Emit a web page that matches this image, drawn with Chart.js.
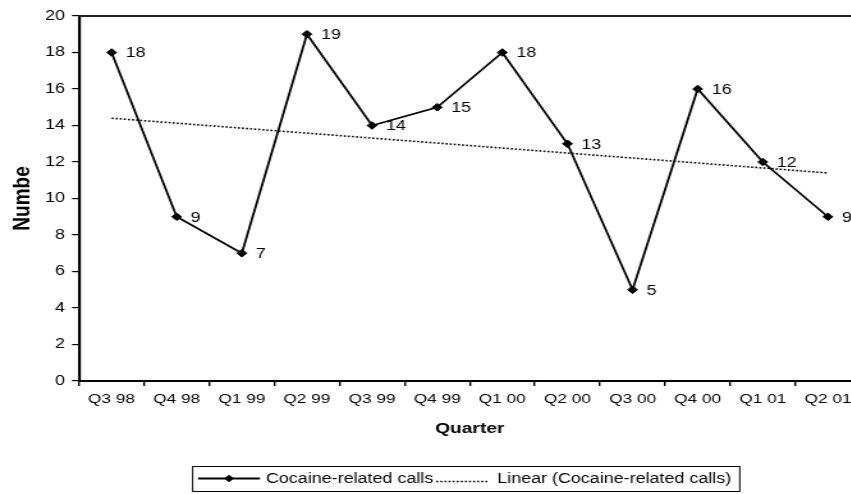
<!DOCTYPE html>
<html>
<head>
<meta charset="utf-8">
<script src="https://cdn.jsdelivr.net/npm/chart.js@4.4.1/dist/chart.umd.min.js"></script>
<style>
  html, body { margin: 0; padding: 0; background: #fff; overflow: hidden; }
  #wrap { width: 851px; height: 494px; overflow: hidden; }
  #calls { display: block; }
</style>
</head>
<body>
<div id="wrap">
  <!-- bitmap is drawn narrower and shown stretched sideways, like the old spreadsheet export -->
  <canvas id="calls" width="688" height="494" style="width:880px;height:494px"></canvas>
</div>
<script>
// quarters and counts
const quarters = ['Q3 98', 'Q4 98', 'Q1 99', 'Q2 99', 'Q3 99', 'Q4 99', 'Q1 00', 'Q2 00', 'Q3 00', 'Q4 00', 'Q1 01', 'Q2 01'];
const cocaineCalls = [18, 9, 7, 19, 14, 15, 18, 13, 5, 16, 12, 9];
// linear trend, first and last quarter
const trendEnds = [14.4, 11.4];
const yTicks = [0, 2, 4, 6, 8, 10, 12, 14, 16, 18, 20];

const SX = 880 / 688;           // sideways stretch of the canvas
const px = v => v / SX;         // screen px -> canvas px (horizontal only)
const FONT = "'Liberation Sans', Arial, sans-serif";

// trend series: just the two ends, the line spans the gap
const trendData = quarters.map((q, i) => i === 0 ? trendEnds[0] : (i === quarters.length - 1 ? trendEnds[1] : null));

Chart.defaults.font.family = FONT;
Chart.defaults.font.size = 13;
Chart.defaults.color = '#000';

// value labels right of each point
const pointLabels = {
  id: 'pointLabels',
  afterDatasetsDraw(chart) {
    const ctx = chart.ctx;
    const meta = chart.getDatasetMeta(0);
    ctx.save();
    ctx.font = '14px ' + FONT;
    ctx.fillStyle = '#000';
    ctx.textAlign = 'left';
    ctx.textBaseline = 'middle';
    meta.data.forEach((pt, i) => {
      ctx.fillText(String(cocaineCalls[i]), pt.x + px(14), pt.y + 1);
    });
    ctx.restore();
  }
};

// top edge of the plot frame
const frameTop = {
  id: 'frameTop',
  beforeDatasetsDraw(chart) {
    const {ctx, chartArea} = chart;
    ctx.save();
    ctx.strokeStyle = '#222';
    ctx.lineWidth = 2;
    ctx.beginPath();
    ctx.moveTo(chartArea.left, chartArea.top);
    ctx.lineTo(chartArea.right, chartArea.top);
    ctx.stroke();
    ctx.restore();
  }
};

// boxed legend under the axis title
const boxLegend = {
  id: 'boxLegend',
  afterDraw(chart) {
    const ctx = chart.ctx;
    const top = 466, h = 25, mid = top + h / 2;
    const left = px(192);
    ctx.save();
    ctx.font = '14px ' + FONT;
    ctx.fillStyle = '#000';
    ctx.strokeStyle = '#000';
    ctx.textBaseline = 'middle';

    // solid line + diamond
    const a = left + px(6), b = left + px(68);
    ctx.lineWidth = 1.8;
    ctx.beginPath(); ctx.moveTo(a, mid); ctx.lineTo(b, mid); ctx.stroke();
    const cx = (a + b) / 2, r = 3.8;
    ctx.beginPath();
    ctx.moveTo(cx, mid - r); ctx.lineTo(cx + r, mid); ctx.lineTo(cx, mid + r); ctx.lineTo(cx - r, mid);
    ctx.closePath(); ctx.fill();

    const t1 = chart.data.datasets[0].label;
    const x1 = left + px(74);
    ctx.fillText(t1, x1, mid + 1);
    const w1 = ctx.measureText(t1).width;

    // dotted sample
    const d0 = x1 + w1 + px(3), d1 = d0 + px(53);
    ctx.lineWidth = 1.5;
    ctx.setLineDash([1.6, 1.6]);
    ctx.beginPath(); ctx.moveTo(d0, mid + 3); ctx.lineTo(d1, mid + 3); ctx.stroke();
    ctx.setLineDash([]);

    const t2 = chart.data.datasets[1].label;
    const x2 = d1 + px(8);
    ctx.fillText(t2, x2, mid + 1);
    const w2 = ctx.measureText(t2).width;

    ctx.lineWidth = 1;
    ctx.strokeRect(left + 0.5, top + 0.5, x2 + w2 + px(8) - left, h);
    ctx.restore();
  }
};

new Chart(document.getElementById('calls'), {
  type: 'line',
  data: {
    labels: quarters,
    datasets: [{
      label: 'Cocaine-related calls',
      data: cocaineCalls,
      borderColor: '#000',
      backgroundColor: '#000',
      borderWidth: 1.8,
      tension: 0,
      pointStyle: 'rectRot',
      pointRadius: 3.8,
      pointBorderWidth: 1,
      pointBackgroundColor: '#000',
      pointBorderColor: '#000'
    }, {
      label: 'Linear (Cocaine-related calls)',
      data: trendData,
      spanGaps: true,
      borderColor: '#000',
      borderWidth: 1.6,
      borderDash: [1.6, 1.6],
      pointRadius: 0,
      tension: 0
    }]
  },
  options: {
    responsive: false,
    devicePixelRatio: 1,
    animation: false,
    layout: { padding: { top: 16, right: 688 - px(860.5), bottom: 53, left: 0 } },
    plugins: {
      legend: { display: false },
      tooltip: { enabled: false }
    },
    scales: {
      x: {
        type: 'category',
        offset: true,
        afterFit(scale) { scale.height = 60; },
        grid: {
          offset: true,
          drawOnChartArea: false,
          drawTicks: true,
          tickLength: 5,
          color: '#000',
          lineWidth: 1.4
        },
        border: { display: true, color: '#000', width: 2 },
        ticks: { autoSkip: false, maxRotation: 0, padding: 5, color: '#000', font: { size: 13.5 } },
        title: {
          display: true,
          text: 'Quarter',
          color: '#000',
          font: { size: 15, weight: 'bold' },
          padding: { top: 0, bottom: 3 }
        }
      },
      y: {
        min: 0,
        max: 20,
        afterFit(scale) { scale.width = px(79); },
        afterBuildTicks(scale) { scale.ticks = yTicks.map(v => ({ value: v })); },
        grid: {
          drawOnChartArea: false,
          drawTicks: true,
          tickLength: px(7),
          color: '#000',
          lineWidth: 1.2
        },
        border: { display: true, color: '#000', width: 2.2 },
        ticks: { padding: px(7), color: '#000', font: { size: 14 } },
        title: {
          display: true,
          text: 'Numbe',
          color: '#000',
          font: { size: 19, weight: 'bold' },
          padding: { top: 6.2, bottom: 0 }
        }
      }
    }
  },
  plugins: [frameTop, pointLabels, boxLegend]
});
</script>
</body>
</html>
